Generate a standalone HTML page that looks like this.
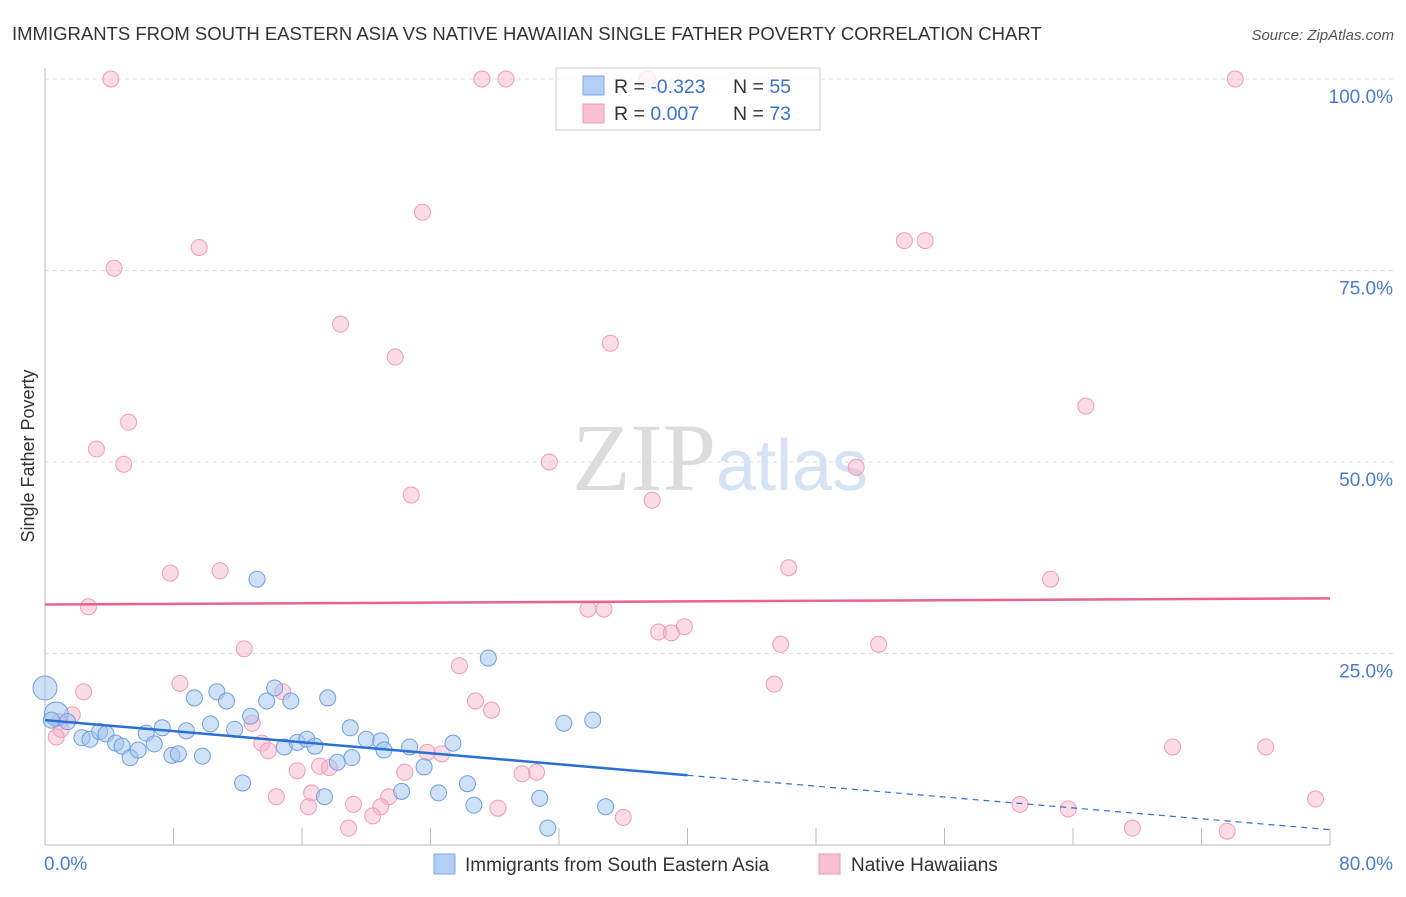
<!DOCTYPE html>
<html><head><meta charset="utf-8"><style>
body{margin:0;background:#fff;font-family:"Liberation Sans",sans-serif;}
svg text{font-family:"Liberation Sans",sans-serif;}
</style></head><body>
<svg id="chart" width="1406" height="892" xmlns="http://www.w3.org/2000/svg">
<text x="12" y="40" font-size="18.5" fill="#333">IMMIGRANTS FROM SOUTH EASTERN ASIA VS NATIVE HAWAIIAN SINGLE FATHER POVERTY CORRELATION CHART</text>
<text x="1394" y="40" font-size="15" fill="#555" font-style="italic" text-anchor="end">Source: ZipAtlas.com</text>
<text x="34" y="456" font-size="18" fill="#333" text-anchor="middle" transform="rotate(-90 34 456)">Single Father Poverty</text>
<g id="grid"></g>
<text x="720" y="490" font-size="96" fill="#e4e4e4" text-anchor="middle" font-family="Liberation Serif"><tspan fill="#dcdcdc" font-family="Liberation Serif">ZIP</tspan><tspan fill="#d6e3f5" font-family="Liberation Sans" font-size="72">atlas</tspan></text>
<g id="marks"></g>
<g>
<rect x="556" y="68" width="264" height="62" fill="#fff" fill-opacity="0.75" stroke="#ccc"/>
<rect x="583" y="76" width="21" height="19" fill="#b4cff5" stroke="#7fa9e2"/>
<rect x="583" y="104" width="21" height="19" fill="#f8c0d2" stroke="#ef9ab6"/>
<text x="614" y="93" font-size="19.5" fill="#333">R = <tspan fill="#3a72d0">-0.323</tspan></text>
<text x="733" y="93" font-size="19.5" fill="#333">N = <tspan fill="#3a72d0">55</tspan></text>
<text x="614" y="120" font-size="19.5" fill="#333">R = <tspan fill="#3a72d0"> 0.007</tspan></text>
<text x="733" y="120" font-size="19.5" fill="#333">N = <tspan fill="#3a72d0">73</tspan></text>
</g>
<g>
<rect x="434" y="854" width="21" height="20" fill="#b4cff5" stroke="#7fa9e2"/>
<text x="465" y="871" font-size="19" fill="#333">Immigrants from South Eastern Asia</text>
<rect x="819" y="854" width="21" height="20" fill="#f8c0d2" stroke="#ef9ab6"/>
<text x="851" y="871" font-size="19" fill="#333">Native Hawaiians</text>
</g>
</svg>
<script>
const yTicks=[25,50,75,100];
const yTickLabels=["25.0%","50.0%","75.0%","100.0%"];
const xTickCount=11;
const xLabels=["0.0%","80.0%"];
const blueX=[0,0.7,1.4,2.3,2.8,3.4,3.8,4.4,4.8,5.3,5.8,6.3,6.8,7.3,7.9,8.3,8.8,9.3,9.8,10.3,10.7,11.3,11.8,12.3,12.8,13.2,13.8,14.3,14.9,15.3,15.7,16.3,16.8,17.4,17.6,18.2,19.0,19.1,20.0,20.9,21.1,22.2,22.7,23.6,24.5,25.4,26.3,26.7,27.6,30.8,31.3,32.3,34.1,34.9,0.4];
const blueY=[20.5,17.1,16.1,14.0,13.8,14.8,14.5,13.3,12.9,11.4,12.4,14.6,13.2,15.3,11.7,11.9,14.9,19.2,11.6,15.8,20.0,18.8,15.1,8.1,16.8,34.7,18.8,20.5,12.8,18.8,13.4,13.8,12.9,6.3,19.2,10.8,15.3,11.4,13.8,13.6,12.4,7.0,12.8,10.2,6.8,13.3,8.0,5.2,24.4,6.1,2.2,15.9,16.3,5.0,16.3];
const pinkX=[4.1,27.2,28.7,37.5,74.1,23.5,9.6,53.5,54.8,4.3,18.4,21.8,35.2,64.8,5.2,3.2,4.9,31.4,50.5,22.8,37.8,7.8,10.9,46.3,62.6,2.7,33.8,34.8,38.2,39.0,39.8,12.4,45.8,51.9,25.8,8.4,45.4,2.4,14.8,26.8,27.8,1.7,0.9,12.9,0.7,13.5,13.9,70.2,76.0,23.8,24.7,15.7,17.1,17.7,30.6,29.7,22.4,14.4,16.6,21.4,19.2,20.9,16.4,28.2,60.7,63.7,20.4,36.0,18.9,67.7,73.6,79.1,1.0];
const pinkY=[100,100,100,100,100,82.6,78.0,78.9,78.9,75.3,68.0,63.7,65.5,57.3,55.2,51.7,49.7,50.0,49.3,45.7,45.0,35.5,35.8,36.2,34.7,31.1,30.8,30.8,27.8,27.7,28.5,25.6,26.2,26.2,23.4,21.1,21.0,20.0,20.0,18.8,17.6,17.0,16.1,15.9,14.1,13.3,12.3,12.8,12.8,12.1,11.9,9.7,10.3,10.1,9.5,9.3,9.5,6.3,6.8,6.3,5.3,5.0,5.0,4.8,5.3,4.7,3.8,3.6,2.2,2.2,1.8,6.0,15.1];
const blueTrend=[[0,16.3],[40,9.1],[80,2.0]];
const pinkTrend=[[0,31.4],[80,32.2]];
const NS="http://www.w3.org/2000/svg";
const L=45,R=1330,T=79,B=845;
const sx=v=>L+v/80*(R-L);
const sy=v=>B-v/100*(B-T);
function mk(tag,attrs,parent){const e=document.createElementNS(NS,tag);for(const k in attrs)e.setAttribute(k,attrs[k]);parent.appendChild(e);return e;}
const grid=document.getElementById('grid');
const marks=document.getElementById('marks');
for(let i=0;i<yTicks.length;i++){
  const g=mk('line',{x1:L,x2:1394,y1:sy(yTicks[i]),y2:sy(yTicks[i]),stroke:'#ddd','stroke-dasharray':'4,4'},grid);
  
  
  const t=mk('text',{x:1393,y:sy(yTicks[i])+24,'font-size':19,fill:'#4a7bd0','text-anchor':'end'},grid);
  t.textContent=yTickLabels[i];
  
  
}
const ya=mk('line',{x1:L,x2:L,y1:68,y2:B,stroke:'#bbb'},grid);


const xa=mk('line',{x1:L,x2:R,y1:B,y2:B,stroke:'#bbb'},grid);


for(let i=0;i<xTickCount;i++){
  const x=sx(i*80/(xTickCount-1));
  const tk=mk('line',{x1:x,x2:x,y1:828,y2:B,stroke:'#bbb'},grid);
  
  
}
const xl0=mk('text',{x:44,y:870,'font-size':19,fill:'#4a7bd0'},grid);xl0.textContent=xLabels[0];


const xl1=mk('text',{x:1393,y:870,'font-size':19,fill:'#4a7bd0','text-anchor':'end'},grid);xl1.textContent=xLabels[1];


for(let i=0;i<pinkX.length;i++){
  const c=mk('circle',{cx:sx(pinkX[i]),cy:sy(pinkY[i]),r:8,fill:'rgba(246,176,200,0.45)',stroke:'#f09bb8','stroke-width':1},marks);
  
  
}
for(let i=0;i<blueX.length;i++){
  const r=i<2?12:8;
  const c=mk('circle',{cx:sx(blueX[i]),cy:sy(blueY[i]),r:r,fill:'rgba(160,195,240,0.5)',stroke:'#6f9fe0','stroke-width':1},marks);
  
  
}
const pl=mk('line',{x1:sx(pinkTrend[0][0]),y1:sy(pinkTrend[0][1]),x2:sx(pinkTrend[1][0]),y2:sy(pinkTrend[1][1]),stroke:'#e8638f','stroke-width':2.5},marks);


const bl=mk('line',{x1:sx(blueTrend[0][0]),y1:sy(blueTrend[0][1]),x2:sx(blueTrend[1][0]),y2:sy(blueTrend[1][1]),stroke:'#2a6fd6','stroke-width':2.5},marks);


const bd=mk('line',{x1:sx(blueTrend[1][0]),y1:sy(blueTrend[1][1]),x2:sx(blueTrend[2][0]),y2:sy(blueTrend[2][1]),stroke:'#2a6fd6','stroke-width':1.2,'stroke-dasharray':'6,5'},marks);


</script>
</body></html>
